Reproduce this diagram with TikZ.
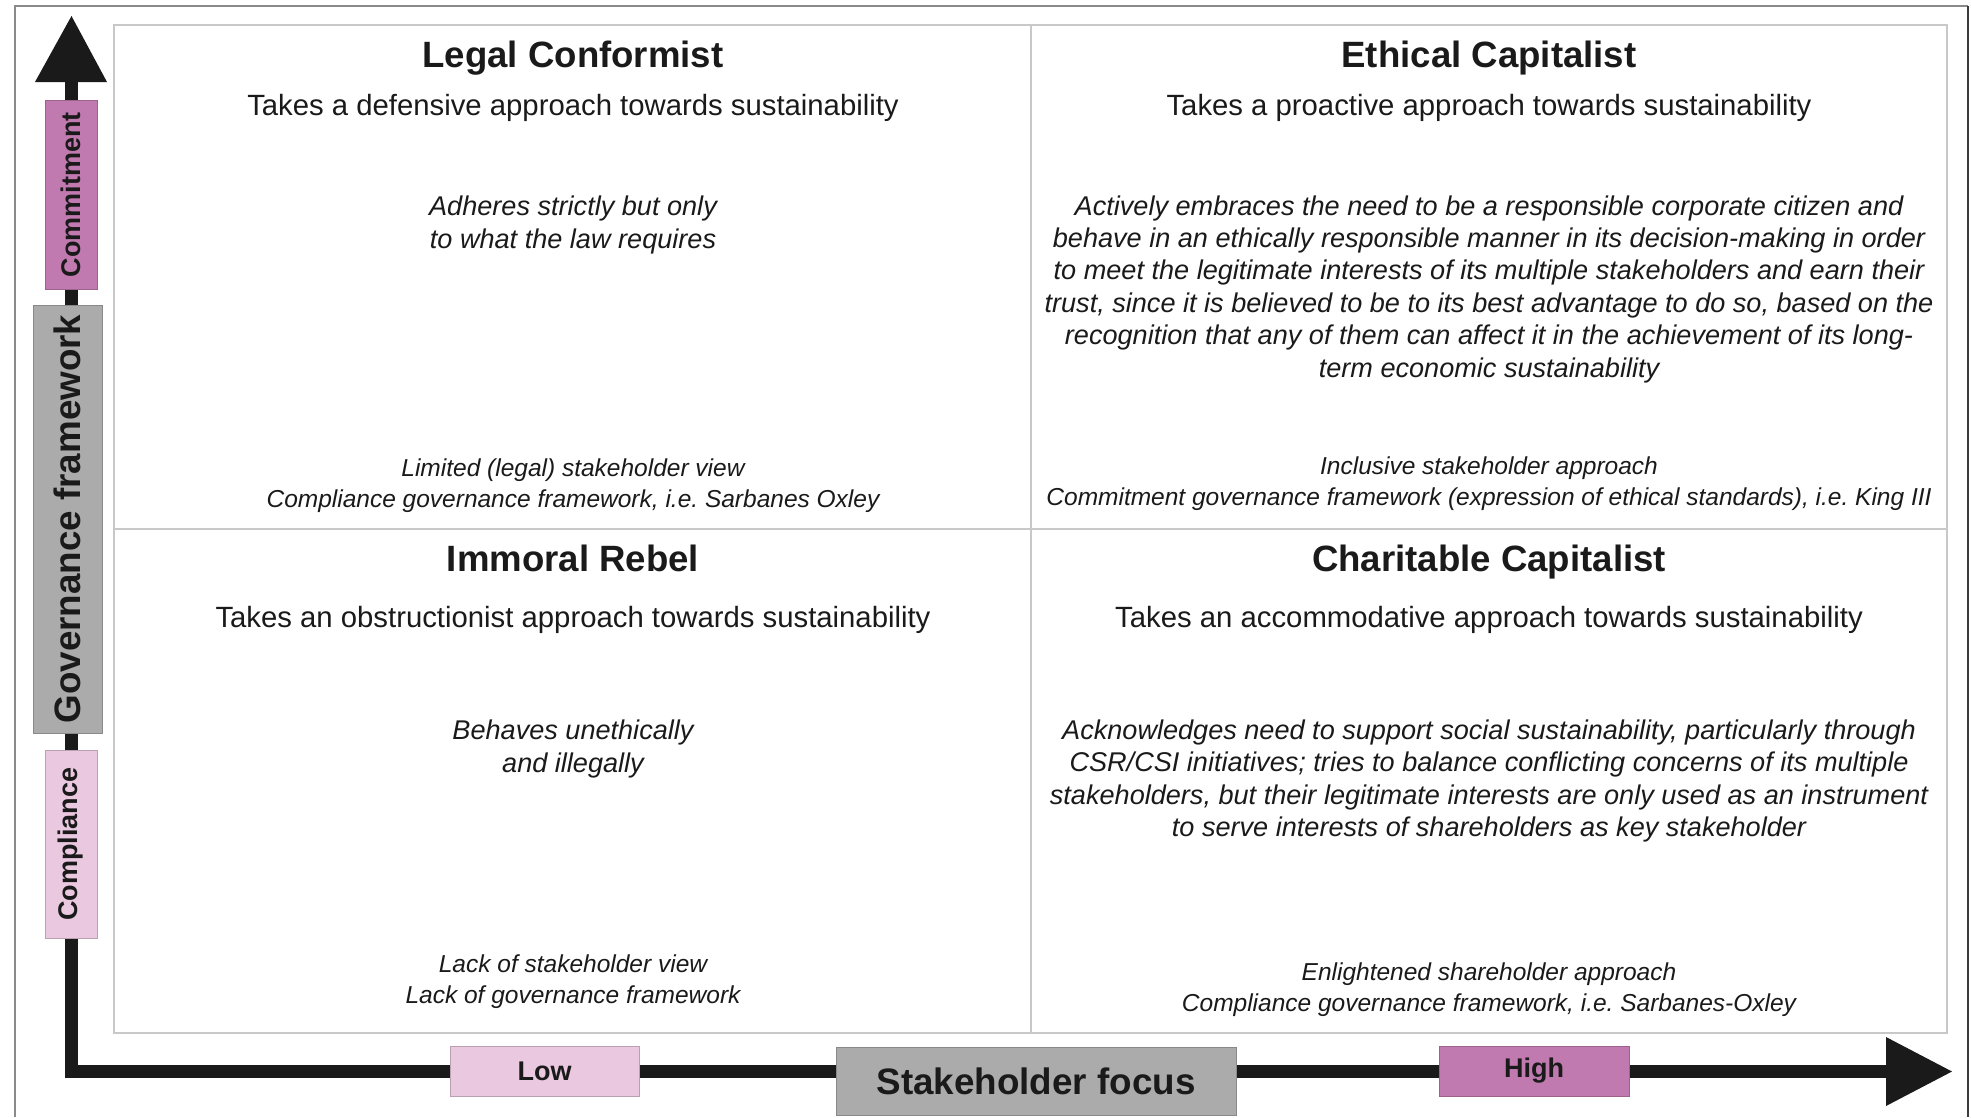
\documentclass[tikz,border=0pt]{standalone}
\usepackage{fontspec}
\setmainfont{Liberation Sans}
\frenchspacing
\definecolor{ink}{HTML}{1A1A1A}
\definecolor{gridline}{HTML}{C8C8C8}
\definecolor{framegray}{HTML}{8A8A8A}
\definecolor{hiPurple}{HTML}{C07AB0}
\definecolor{loPink}{HTML}{EAC8DF}
\definecolor{midGray}{HTML}{ABABAB}
\begin{document}
\begin{tikzpicture}[x=1pt,y=-1pt,
  every node/.style={text=ink, inner sep=0pt},
  quadtitle/.style={font=\fontsize{36.6}{44}\selectfont\bfseries, anchor=base},
  quadsub/.style={font=\fontsize{29.3}{35}\selectfont, anchor=base},
  quadbody/.style={font=\fontsize{27.1}{32.4}\selectfont\itshape, align=center},
  quadfoot/.style={font=\fontsize{24.5}{31}\selectfont\itshape, align=center},
  axisbox/.style={draw=#1!80!black, line width=1pt, fill=#1},
  smalllabel/.style={font=\fontsize{27}{32}\selectfont\bfseries},
  biglabel/.style={font=\fontsize{36.8}{44}\selectfont\bfseries},
  axisline/.style={line width=13pt, draw=ink, miter limit=10}
]
\useasboundingbox (0,0) rectangle (1971,1117);
\fill[white] (0,0) rectangle (1971,1117);

% outer frame
\draw[framegray, line width=2pt] (15,1117) -- (15,6) -- (1968,6);
\draw[ink!85, line width=2pt] (1968,6) -- (1968,1117);

% quadrant grid
\draw[gridline, line width=1.5pt] (114,25) rectangle (1947,1033);
\draw[gridline, line width=1.5pt] (1031,25) -- (1031,1033);
\draw[gridline, line width=1.5pt] (114,529) -- (1947,529);

% axes
\coordinate (origin) at (71.5,1071.5);
\coordinate (ybase) at (71.5,82);
\coordinate (xbase) at (1886,1071.5);
\draw[axisline] (ybase) -- (origin) -- (xbase);
\fill[ink] (35,82) -- (107,82) -- (71.5,16) -- cycle;
\fill[ink] (1886,1037) -- (1886,1106) -- (1952,1071.5) -- cycle;

% vertical axis labels
\node[axisbox=hiPurple, smalllabel, rotate=90, minimum width=189pt, minimum height=52pt] (commit) at (71,194.5) {Commitment};
\node[axisbox=midGray, biglabel, rotate=90, minimum width=428pt, minimum height=69pt] (govern) at (67.5,519) {Governance framework};
\node[axisbox=loPink, smalllabel, rotate=90, minimum width=188pt, minimum height=52pt] (comply) at (71,844) {Compliance};

% horizontal axis labels
\node[axisbox=loPink, smalllabel, minimum width=189pt, minimum height=50pt] (low) at (544.5,1071) {Low};
\node[axisbox=midGray, biglabel, minimum width=400pt, minimum height=68pt] (focus) at (1036,1081) {Stakeholder focus};
\node[axisbox=hiPurple, smalllabel, minimum width=190pt, minimum height=50pt] (high) at (1534,1071) {High};

% top-left quadrant
\node[quadtitle] (lcTitle) at (573,67.5) {Legal Conformist};
\node[quadsub] (lcSub) at (573,115.5) {Takes a defensive approach towards sustainability};
\node[quadbody] (lcBody) at (573,225) {Adheres strictly but only\\to what the law requires};
\node[quadfoot] (lcFoot) at (573,486) {Limited (legal) stakeholder view\\Compliance governance framework, i.e. Sarbanes Oxley};

% top-right quadrant
\node[quadtitle] (ecTitle) at (1489,67.5) {Ethical Capitalist};
\node[quadsub] (ecSub) at (1489,115.5) {Takes a proactive approach towards sustainability};
\node[quadbody] (ecBody) at (1489,289) {Actively embraces the need to be a responsible corporate citizen and\\
behave in an ethically responsible manner in its decision-making in order\\
to meet the legitimate interests of its multiple stakeholders and earn their\\
trust, since it is believed to be to its best advantage to do so, based on the\\
recognition that any of them can affect it in the achievement of its long-\\
term economic sustainability};
\node[quadfoot] (ecFoot) at (1489,484) {Inclusive stakeholder approach\\Commitment governance framework (expression of ethical standards), i.e. King III};

% bottom-left quadrant
\node[quadtitle] (irTitle) at (573,571.5) {Immoral Rebel};
\node[quadsub] (irSub) at (573,627) {Takes an obstructionist approach towards sustainability};
\node[quadbody] (irBody) at (573,749) {Behaves unethically\\and illegally};
\node[quadfoot] (irFoot) at (573,981.5) {Lack of stakeholder view\\Lack of governance framework};

% bottom-right quadrant
\node[quadtitle] (ccTitle) at (1489,571.5) {Charitable Capitalist};
\node[quadsub] (ccSub) at (1489,627) {Takes an accommodative approach towards sustainability};
\node[quadbody] (ccBody) at (1489,781) {Acknowledges need to support social sustainability, particularly through\\
CSR/CSI initiatives; tries to balance conflicting concerns of its multiple\\
stakeholders, but their legitimate interests are only used as an instrument\\
to serve interests of shareholders as key stakeholder};
\node[quadfoot] (ccFoot) at (1489,989.5) {Enlightened shareholder approach\\Compliance governance framework, i.e. Sarbanes-Oxley};
\end{tikzpicture}
\end{document}
